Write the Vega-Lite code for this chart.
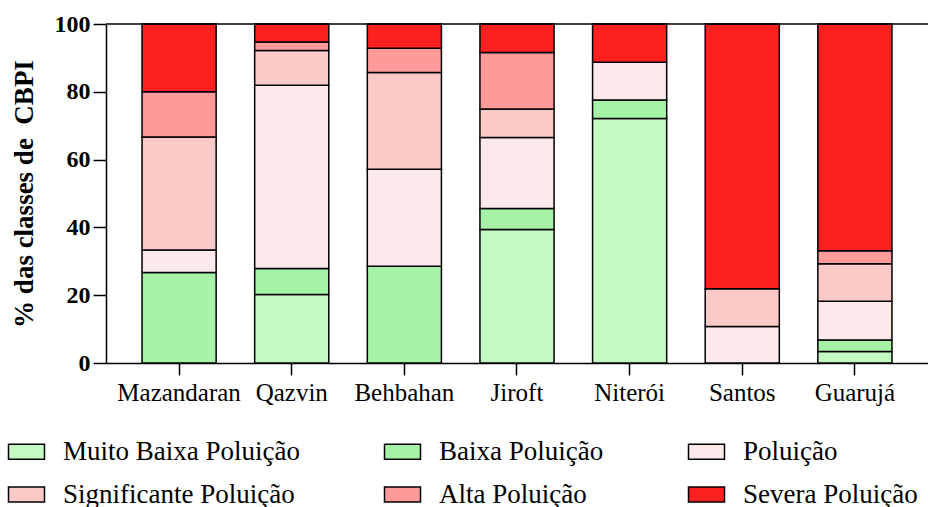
{
  "$schema": "https://vega.github.io/schema/vega-lite/v6.json",
  "width": 822,
  "height": 339,
  "padding": {"left": 10, "top": 12, "right": 0, "bottom": 0},
  "background": "white",
  "config": {
    "view": {"stroke": null},
    "font": "Liberation Serif"
  },
  "datasets": {
    "bars": [
      {"local": "Mazandaran", "classe": "Baixa Poluição", "k": 2, "pct": 26.67},
      {"local": "Mazandaran", "classe": "Poluição", "k": 3, "pct": 6.67},
      {"local": "Mazandaran", "classe": "Significante Poluição", "k": 4, "pct": 33.33},
      {"local": "Mazandaran", "classe": "Alta Poluição", "k": 5, "pct": 13.33},
      {"local": "Mazandaran", "classe": "Severa Poluição", "k": 6, "pct": 20.0},
      {"local": "Qazvin", "classe": "Muito Baixa Poluição", "k": 1, "pct": 20.2},
      {"local": "Qazvin", "classe": "Baixa Poluição", "k": 2, "pct": 7.7},
      {"local": "Qazvin", "classe": "Poluição", "k": 3, "pct": 54.0},
      {"local": "Qazvin", "classe": "Significante Poluição", "k": 4, "pct": 10.3},
      {"local": "Qazvin", "classe": "Alta Poluição", "k": 5, "pct": 2.5},
      {"local": "Qazvin", "classe": "Severa Poluição", "k": 6, "pct": 5.3},
      {"local": "Behbahan", "classe": "Baixa Poluição", "k": 2, "pct": 28.57},
      {"local": "Behbahan", "classe": "Poluição", "k": 3, "pct": 28.57},
      {"local": "Behbahan", "classe": "Significante Poluição", "k": 4, "pct": 28.57},
      {"local": "Behbahan", "classe": "Alta Poluição", "k": 5, "pct": 7.15},
      {"local": "Behbahan", "classe": "Severa Poluição", "k": 6, "pct": 7.14},
      {"local": "Jiroft", "classe": "Muito Baixa Poluição", "k": 1, "pct": 39.4},
      {"local": "Jiroft", "classe": "Baixa Poluição", "k": 2, "pct": 6.2},
      {"local": "Jiroft", "classe": "Poluição", "k": 3, "pct": 20.9},
      {"local": "Jiroft", "classe": "Significante Poluição", "k": 4, "pct": 8.4},
      {"local": "Jiroft", "classe": "Alta Poluição", "k": 5, "pct": 16.7},
      {"local": "Jiroft", "classe": "Severa Poluição", "k": 6, "pct": 8.4},
      {"local": "Niterói", "classe": "Muito Baixa Poluição", "k": 1, "pct": 72.1},
      {"local": "Niterói", "classe": "Baixa Poluição", "k": 2, "pct": 5.5},
      {"local": "Niterói", "classe": "Poluição", "k": 3, "pct": 11.1},
      {"local": "Niterói", "classe": "Severa Poluição", "k": 6, "pct": 11.3},
      {"local": "Santos", "classe": "Poluição", "k": 3, "pct": 10.8},
      {"local": "Santos", "classe": "Significante Poluição", "k": 4, "pct": 11.1},
      {"local": "Santos", "classe": "Severa Poluição", "k": 6, "pct": 78.1},
      {"local": "Guarujá", "classe": "Muito Baixa Poluição", "k": 1, "pct": 3.4},
      {"local": "Guarujá", "classe": "Baixa Poluição", "k": 2, "pct": 3.4},
      {"local": "Guarujá", "classe": "Poluição", "k": 3, "pct": 11.4},
      {"local": "Guarujá", "classe": "Significante Poluição", "k": 4, "pct": 11.1},
      {"local": "Guarujá", "classe": "Alta Poluição", "k": 5, "pct": 3.8},
      {"local": "Guarujá", "classe": "Severa Poluição", "k": 6, "pct": 66.9}
    ],
    "top": [{"v": 100}]
  },
  "layer": [
    {
      "data": {"name": "bars"},
      "mark": {"type": "bar", "stroke": "black", "strokeWidth": 1.5},
      "encoding": {
        "x": {
          "field": "local",
          "type": "nominal",
          "sort": ["Mazandaran", "Qazvin", "Behbahan", "Jiroft", "Niterói", "Santos", "Guarujá"],
          "scale": {"paddingInner": 0.342, "paddingOuter": 0.32},
          "axis": {
            "title": null,
            "labelAngle": 0,
            "labelFont": "Liberation Serif",
            "labelFontSize": 25,
            "labelColor": "black",
            "labelPadding": 5,
            "tickSize": 12,
            "tickColor": "black",
            "tickWidth": 1.5,
            "domainColor": "black",
            "domainWidth": 1.5
          }
        },
        "y": {
          "field": "pct",
          "type": "quantitative",
          "stack": "zero",
          "scale": {"domain": [0, 100], "nice": false},
          "axis": {
            "title": "% das classes de\u00a0 CBPI",
            "titleFont": "Liberation Serif",
            "titleFontSize": 27,
            "titleFontWeight": "bold",
            "titleColor": "black",
            "titlePadding": 16,
            "values": [0, 20, 40, 60, 80, 100],
            "grid": false,
            "labelFont": "Liberation Serif",
            "labelFontSize": 24,
            "labelFontWeight": "bold",
            "labelColor": "black",
            "labelPadding": 3,
            "tickSize": 13,
            "tickColor": "black",
            "tickWidth": 1.5,
            "domainColor": "black",
            "domainWidth": 1.5
          }
        },
        "color": {
          "field": "classe",
          "type": "nominal",
          "scale": {
            "domain": ["Muito Baixa Poluição", "Baixa Poluição", "Poluição", "Significante Poluição", "Alta Poluição", "Severa Poluição"],
            "range": ["#c4f9c4", "#a6f2a6", "#fde9e9", "#fcc9c9", "#ff9a9a", "#ff2020"]
          },
          "legend": {
            "title": null,
            "orient": "none",
            "legendX": -93,
            "legendY": 414,
            "direction": "horizontal",
            "columns": 3,
            "columnPadding": 81,
            "rowPadding": 15,
            "padding": 0,
            "labelFont": "Liberation Serif",
            "labelFontSize": 27,
            "labelColor": "black",
            "labelLimit": 0,
            "labelOffset": 23,
            "symbolType": "M-2,-0.833H2V0.833H-2Z",
            "symbolSize": 324,
            "symbolStrokeColor": "black",
            "symbolStrokeWidth": 1.5,
            "symbolOpacity": 1
          }
        },
        "order": {"field": "k", "type": "quantitative"}
      }
    },
    {
      "data": {"name": "top"},
      "mark": {"type": "rule", "color": "black", "strokeWidth": 1.5},
      "encoding": {"y": {"field": "v", "type": "quantitative"}}
    }
  ]
}
